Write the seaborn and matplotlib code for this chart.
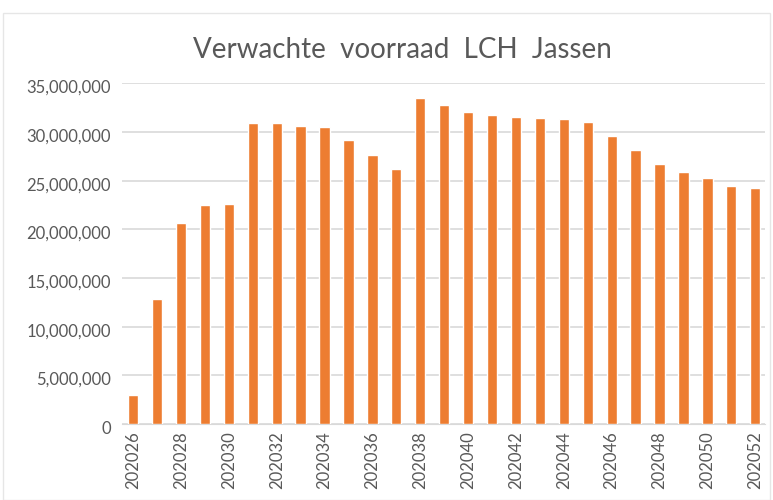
import matplotlib
matplotlib.use("Agg")
import matplotlib.pyplot as plt
import matplotlib.transforms as mtransforms
import seaborn as sns
import pandas as pd
from matplotlib.ticker import FuncFormatter
from matplotlib.patches import Rectangle

# data
weeks = [str(202026 + i) for i in range(27)]
stock = [3.0e6, 12.9e6, 20.7e6, 22.5e6, 22.65e6, 30.97e6, 30.95e6, 30.66e6, 30.52e6,
         29.16e6, 27.68e6, 26.2e6, 33.53e6, 32.81e6, 32.02e6, 31.78e6, 31.54e6,
         31.44e6, 31.3e6, 31.06e6, 29.63e6, 28.16e6, 26.75e6, 25.93e6, 25.25e6,
         24.46e6, 24.29e6]

df = pd.DataFrame({"week": weeks, "stock": stock})

sns.set_style("white")
plt.rcParams["font.family"] = ["Lato", "DejaVu Sans"]

fig = plt.figure(figsize=(7.73, 5), dpi=100)
ax = fig.add_axes([0.158, 0.152, 0.832, 0.681])

sns.barplot(data=df, x="week", y="stock", color="#ED7D31", width=0.43,
            saturation=1, ax=ax, zorder=3)

ax.set_ylim(0, 35e6)
ax.set_yticks(range(0, 35000001, 5000000))
ax.yaxis.set_major_formatter(FuncFormatter(lambda v, p: f"{int(v):,}"))
ax.set_xlim(-0.46, 26.42)
ax.set_xticks(range(0, 27, 2))
ax.set_xticklabels(weeks[::2], rotation=90)
ax.tick_params(axis="both", colors="#595959", labelsize=12, length=0)
ax.tick_params(axis="y", pad=8)
ax.tick_params(axis="x", pad=5)
# labels sit a little below their gridlines in the original
shift = mtransforms.ScaledTranslation(0, -3 / 100, fig.dpi_scale_trans)
for lab in ax.get_yticklabels():
    lab.set_transform(lab.get_transform() + shift)
ax.grid(axis="y", color="#D9D9D9", linewidth=1.2, zorder=0)
ax.set_axisbelow(True)
for s in ["top", "right", "left"]:
    ax.spines[s].set_visible(False)
ax.spines["bottom"].set_color("#D9D9D9")
ax.set_xlabel("")
ax.set_ylabel("")

fig.text(0.52, 0.9, "Verwachte  voorraad  LCH  Jassen", ha="center", va="center",
         fontsize=20, color="#595959")

# light frame around the chart like the office export
fig.patches.append(Rectangle((0.004, 0.0), 0.992, 0.975, transform=fig.transFigure,
                             fill=False, edgecolor="#E6E6E6", linewidth=1))

fig.savefig("out.png", dpi=100)
